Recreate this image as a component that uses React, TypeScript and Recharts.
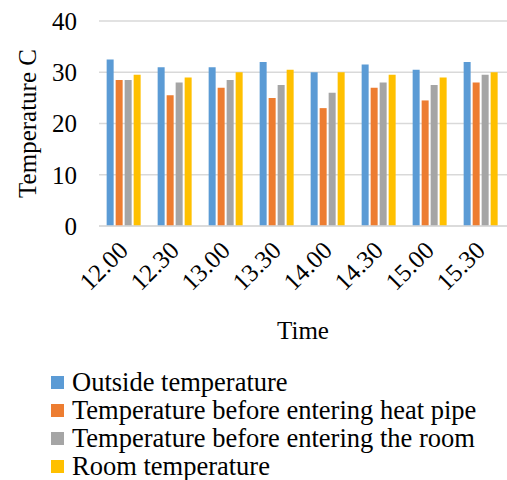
import { BarChart, Bar, XAxis, YAxis, CartesianGrid, Legend } from 'recharts';

const times = ['12.00', '12.30', '13.00', '13.30', '14.00', '14.30', '15.00', '15.30'];
const outside = [32.5, 31, 31, 32, 30, 31.5, 30.5, 32];
const beforeHeatPipe = [28.5, 25.5, 27, 25, 23, 27, 24.5, 28];
const beforeRoom = [28.5, 28, 28.5, 27.5, 26, 28, 27.5, 29.5];
const room = [29.5, 29, 30, 30.5, 30, 29.5, 29, 30];
const yTicks = [0, 10, 20, 30, 40];

const series = [
  { key: 'outside', name: 'Outside temperature', color: '#5B9BD5' },
  { key: 'beforeHeatPipe', name: 'Temperature before entering heat pipe', color: '#ED7D31' },
  { key: 'beforeRoom', name: 'Temperature before entering the room', color: '#A5A5A5' },
  { key: 'room', name: 'Room temperature', color: '#FFC000' },
];

const data = times.map((t, i) => ({
  time: t,
  outside: outside[i],
  beforeHeatPipe: beforeHeatPipe[i],
  beforeRoom: beforeRoom[i],
  room: room[i],
}));

const FONT = 'Liberation Serif, Tinos, DejaVu Serif, serif';

const XTick = (props: any) => {
  const { x, y, payload } = props;
  const tx = x + 5;
  const ty = y + 18;
  return (
    <text
      x={tx}
      y={ty}
      transform={`rotate(-45, ${tx}, ${ty})`}
      textAnchor="end"
      fill="#000"
      fontSize={25}
      fontFamily={FONT}
    >
      {payload.value}
    </text>
  );
};

const YLabel = (props: any) => {
  const vb = props.viewBox || { y: 21, height: 205 };
  const cx = 27;
  const cy = vb.y + vb.height / 2;
  return (
    <text
      x={cx}
      y={cy}
      transform={`rotate(-90, ${cx}, ${cy})`}
      textAnchor="middle"
      dominantBaseline="central"
      fill="#000"
      fontSize={25}
      fontFamily={FONT}
    >
      Temperature C
    </text>
  );
};

const LegendBox = () => (
  <div style={{ fontFamily: FONT, fontSize: 26.5, color: '#000' }}>
    {series.map((s) => (
      <div key={s.key} style={{ display: 'flex', alignItems: 'center', height: 28 }}>
        <span
          style={{ display: 'inline-block', width: 13, height: 13, background: s.color, marginRight: 8 }}
        />
        <span style={{ lineHeight: '26px', whiteSpace: 'nowrap' }}>{s.name}</span>
      </div>
    ))}
  </div>
);

export default function App() {
  return (
    <div style={{ position: 'absolute', left: 0, top: 0, width: 507, height: 480, background: '#fff' }}>
      <BarChart
        width={507}
        height={480}
        data={data}
        margin={{ top: 21, right: 0, left: 0, bottom: 0 }}
        barCategoryGap="15%"
        barGap={2}
        style={{ fontFamily: FONT }}
      >
        <CartesianGrid vertical={false} stroke="#d9d9d9" strokeWidth={1.5} />
        <XAxis
          dataKey="time"
          height={143}
          tickLine={false}
          axisLine={{ stroke: '#d9d9d9', strokeWidth: 1.5 }}
          interval={0}
          tick={<XTick />}
          label={{
            value: 'Time',
            position: 'insideTop',
            offset: 95,
            fill: '#000',
            fontSize: 25,
            fontFamily: FONT,
          }}
        />
        <YAxis
          width={99}
          domain={[0, 40]}
          ticks={yTicks}
          tickLine={false}
          axisLine={false}
          tickMargin={16}
          tick={{ fill: '#000', fontSize: 25, fontFamily: FONT }}
          label={<YLabel />}
        />
        <Legend
          verticalAlign="bottom"
          content={<LegendBox />}
          wrapperStyle={{ position: 'absolute', left: 51, top: 368, width: 456, height: 111, overflow: 'visible' }}
        />
        {series.map((s) => (
          <Bar key={s.key} dataKey={s.key} name={s.name} fill={s.color} isAnimationActive={false} />
        ))}
      </BarChart>
    </div>
  );
}
